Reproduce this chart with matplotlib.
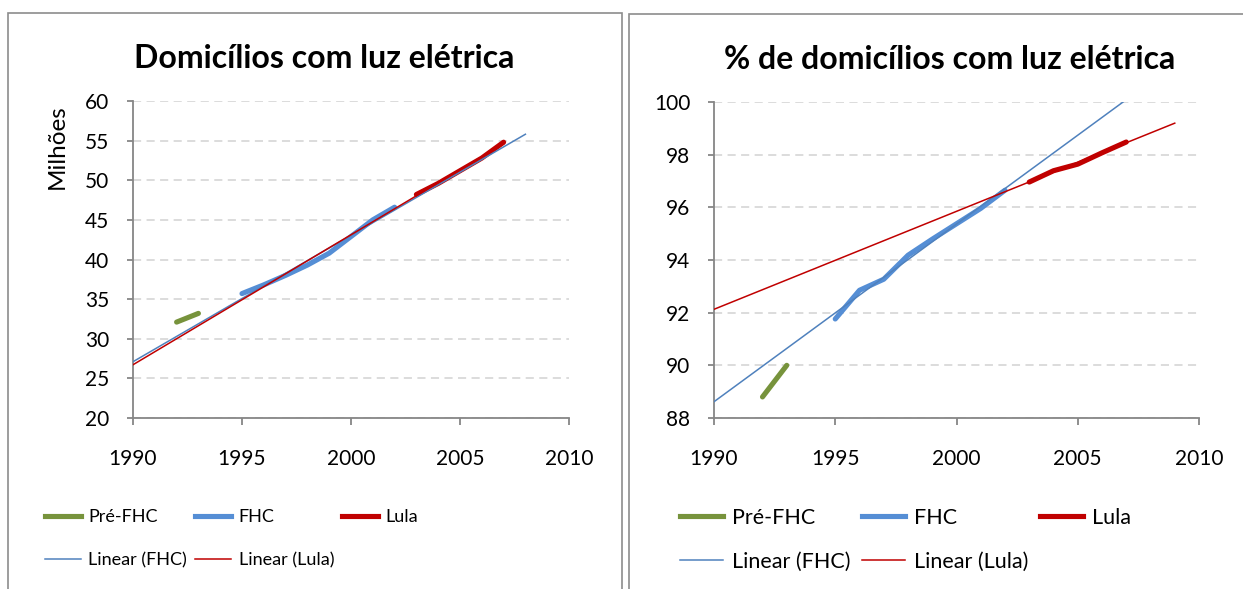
import numpy as np
import matplotlib.pyplot as plt
from matplotlib.patches import Rectangle
from matplotlib.lines import Line2D

# data (PNAD years, no survey in 1994 / 2000)
pre_years = [1992, 1993]
fhc_years = [1995, 1996, 1997, 1998, 1999, 2001, 2002]
lula_years = [2003, 2004, 2005, 2006, 2007]

# millions of households with electric light
pre_mil = [32.1, 33.2]
fhc_mil = [35.7, 36.8, 38.0, 39.3, 40.8, 45.0, 46.6]
lula_mil = [48.2, 49.6, 51.2, 52.8, 54.8]

# % of households with electric light
pre_pct = [88.8, 90.0]
fhc_pct = [91.76, 92.85, 93.27, 94.18, 94.79, 95.96, 96.65]
lula_pct = [96.96, 97.39, 97.64, 98.07, 98.48]

# trendline forecast ranges (Excel style backward/forward)
trend_left = {"fhc": (1990, 2008), "lula": (1990, 2007)}
trend_right = {"fhc": (1990, 2009), "lula": (1990, 2009)}

GREEN = "#77933C"
BLUE = "#558ED5"
BLUE_T = "#4F81BD"
RED = "#C00000"
GRAY = "#868686"
FONT = "Lato"

plt.rcParams["font.family"] = [FONT, "DejaVu Sans"]

fig = plt.figure(figsize=(12.43, 5.89), dpi=100)

# panel borders
for x0, y0, w, h in [(8, 13, 614, 600), (629, 14, 640, 600)]:
    fig.patches.append(Rectangle((x0 / 1243, 1 - (y0 + h) / 589), w / 1243, h / 589,
                                 transform=fig.transFigure, fill=False,
                                 edgecolor="#8c8c8c", lw=1.2, zorder=0))


def trend(years, vals, rng):
    k, b = np.polyfit(years, vals, 1)
    xs = np.array(rng, dtype=float)
    return xs, k * xs + b


def panel(rect, pre, fhc, lula, trends, ylim, yticks, title, tx):
    ax = fig.add_axes(rect)
    lw = 3.7
    ax.plot(pre_years, pre, color=GREEN, lw=lw, solid_capstyle="round", zorder=3)
    ax.plot(fhc_years, fhc, color=BLUE, lw=lw, solid_capstyle="round", zorder=3)
    ax.plot(lula_years, lula, color=RED, lw=lw, solid_capstyle="round", zorder=3)
    xs, ys = trend(fhc_years, fhc, trends["fhc"])
    ax.plot(xs, ys, color=BLUE_T, lw=1.1, zorder=4)
    xs, ys = trend(lula_years, lula, trends["lula"])
    ax.plot(xs, ys, color=RED, lw=1.1, zorder=4)

    ax.set_xlim(1990, 2010)
    ax.set_xticks([1990, 1995, 2000, 2005, 2010])
    ax.set_ylim(*ylim)
    ax.set_yticks(yticks)
    ax.yaxis.grid(True, color="#d9d9d9", lw=1.3, ls=(0, (4.5, 3)))
    ax.set_axisbelow(True)
    for s in ["top", "right"]:
        ax.spines[s].set_visible(False)
    for s in ["left", "bottom"]:
        ax.spines[s].set_color(GRAY)
        ax.spines[s].set_linewidth(1.3)
    ax.tick_params(axis="y", length=4, width=1.3, color=GRAY, labelsize=15, pad=13)
    ax.tick_params(axis="x", length=5, width=1.3, color=GRAY, labelsize=15, pad=17)
    ax.set_title(title, fontsize=23, fontweight="bold", pad=24, x=tx)
    return ax


axL = panel([133 / 1243, 1 - 418 / 589, 436 / 1243, 317 / 589],
            pre_mil, fhc_mil, lula_mil, trend_left, (20, 60), range(20, 61, 5),
            "Domicílios com luz elétrica", (324 - 133) / 436)
fig.text(57 / 1243, 1 - 147 / 589, "Milhões", rotation=90, ha="center", va="center", fontsize=17.5)

axR = panel([714 / 1243, 1 - 418 / 589, 485 / 1243, 316 / 589],
            pre_pct, fhc_pct, lula_pct, trend_right, (88, 100), range(88, 101, 2),
            "% de domicílios com luz elétrica", (950 - 714) / 485)


def legend(ax, x, y, fs, ls, cs):
    h = [Line2D([], [], color=GREEN, lw=3.7),
         Line2D([], [], color=BLUE_T, lw=1.1),
         Line2D([], [], color=BLUE, lw=3.7),
         Line2D([], [], color=RED, lw=1.1),
         Line2D([], [], color=RED, lw=3.7)]
    labels = ["Pré-FHC", "Linear (FHC)", "FHC", "Linear (Lula)", "Lula"]
    ax.legend(h, labels, loc="upper left", bbox_to_anchor=(x, 1 - y / 589),
              bbox_transform=fig.transFigure, ncol=3, frameon=False, fontsize=fs,
              handlelength=2.0, handletextpad=0.4, columnspacing=cs,
              labelspacing=ls, borderpad=0, borderaxespad=0)


legend(axL, 45 / 1243, 509, 13, 1.5, 0.45)
legend(axR, 680 / 1243, 508, 15.5, 1.1, 0.55)

fig.savefig("out.png", dpi=100)
